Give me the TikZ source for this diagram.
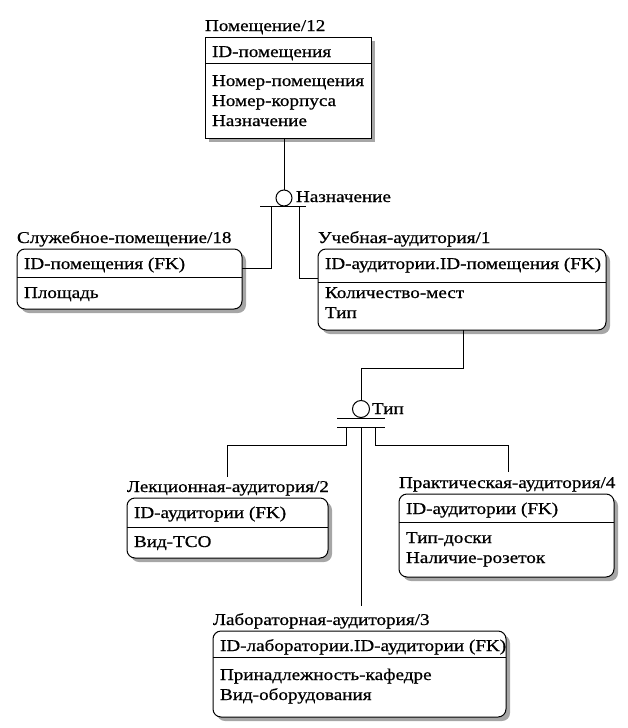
\documentclass[tikz,border=0pt]{standalone}
\usepackage{fontspec}
\setmainfont{Liberation Serif}
\newfontfamily\erdfont[FakeStretch=1.16,FakeBold=0.7]{Liberation Serif}
\usetikzlibrary{shadows}
\begin{document}
\begin{tikzpicture}[x=1pt,y=-1pt,
  every node/.style={inner sep=0pt, outer sep=0pt},
  txt/.style={anchor=base west, font=\erdfont\fontsize{16.5}{20}\selectfont},
  entbox/.style={draw, line width=1pt, fill=white, anchor=north west,
    drop shadow={shadow xshift=4pt, shadow yshift=-4pt, fill=gray!70, opacity=1}},
  depbox/.style={entbox, rounded corners=8pt},
  link/.style={line width=1pt},
  disc/.style={draw, line width=1pt, circle, minimum size=17pt, fill=white}
]
\useasboundingbox (0,0) rectangle (627,728);

% ---- Помещение (independent entity)
\node[entbox, minimum width=166pt, minimum height=101pt] (e1) at (205,37) {};
\draw[link] (205,63) -- (371,63);
\node[txt] (e1t) at (205,31) {Помещение/12};
\node[txt] (e1k) at (212,57) {ID-помещения};
\node[txt] (e1a) at (212,86) {Номер-помещения};
\node[txt] (e1b) at (212,106) {Номер-корпуса};
\node[txt] (e1c) at (212,126) {Назначение};

% ---- Служебное-помещение
\node[depbox, minimum width=225pt, minimum height=60pt] (e2) at (17,249) {};
\draw[link] (17,277) -- (242,277);
\node[txt] (e2t) at (17,243) {Служебное-помещение/18};
\node[txt] (e2k) at (24,269) {ID-помещения (FK)};
\node[txt] (e2a) at (24,298) {Площадь};

% ---- Учебная-аудитория
\node[depbox, minimum width=288pt, minimum height=81pt] (e3) at (318,249) {};
\draw[link] (318,282) -- (606,282);
\node[txt] (e3t) at (318,243) {Учебная-аудитория/1};
\node[txt] (e3k) at (325,269) {ID-аудитории.ID-помещения (FK)};
\node[txt] (e3a) at (325,298) {Количество-мест};
\node[txt] (e3b) at (325,318) {Тип};

% ---- Лекционная-аудитория
\node[depbox, minimum width=201pt, minimum height=60pt] (e4) at (127,498) {};
\draw[link] (127,527) -- (328,527);
\node[txt] (e4t) at (127,492) {Лекционная-аудитория/2};
\node[txt] (e4k) at (134,518) {ID-аудитории (FK)};
\node[txt] (e4a) at (134,547) {Вид-ТСО};

% ---- Практическая-аудитория
\node[depbox, minimum width=215pt, minimum height=83pt] (e5) at (399,494) {};
\draw[link] (399,522) -- (614,522);
\node[txt] (e5t) at (399,488) {Практическая-аудитория/4};
\node[txt] (e5k) at (406,514) {ID-аудитории (FK)};
\node[txt] (e5a) at (406,543) {Тип-доски};
\node[txt] (e5b) at (406,563) {Наличие-розеток};

% ---- Лабораторная-аудитория
\node[depbox, minimum width=293pt, minimum height=86pt] (e6) at (213,631) {};
\draw[link] (213,657) -- (506,657);
\node[txt] (e6t) at (213,625) {Лабораторная-аудитория/3};
\node[txt] (e6k) at (220,651) {ID-лаборатории.ID-аудитории (FK)};
\node[txt] (e6a) at (220,680) {Принадлежность-кафедре};
\node[txt] (e6b) at (220,700) {Вид-оборудования};

% ---- category "Назначение" (incomplete: one bar)
\node[disc, minimum size=16pt] (c1) at (284,198) {};
\node[txt] (c1l) at (296,202) {Назначение};
\coordinate (b1l) at (260,206);
\coordinate (b1r) at (306,206);
\draw[link] (b1l) -- (b1r);
\draw[link] (c1.north |- e1.south) -- (c1.north);
\coordinate (s1) at (271,206);
\coordinate (s2) at (299,206);
\coordinate (e2in) at (242,268);
\coordinate (e3in) at (318,278);
\draw[link] (s1) |- (e2in);
\draw[link] (s2) |- (e3in);

% ---- category "Тип" (complete: two bars)
\node[disc] (c2) at (361,409) {};
\node[txt] (c2l) at (372,414) {Тип};
\coordinate (b2l) at (337,418);
\coordinate (b2r) at (385,418);
\coordinate (b3l) at (337,427);
\coordinate (b3r) at (385,427);
\draw[link] (b2l) -- (b2r);
\draw[link] (b3l) -- (b3r);
\coordinate (e3out) at (463,330);
\coordinate (k1) at (463,368);
\draw[link] (e3out) -- (k1) -| (c2.north);
\coordinate (t1) at (346,427);
\coordinate (t2) at (361,427);
\coordinate (t3) at (375,427);
\coordinate (e4in) at (227,477);
\coordinate (e5in) at (508,472);
\coordinate (e6in) at (361,606);
\draw[link] (t1) -- (346,445) -| (e4in);
\draw[link] (t2) -- (e6in);
\draw[link] (t3) -- (375,445) -| (e5in);
\end{tikzpicture}
\end{document}
